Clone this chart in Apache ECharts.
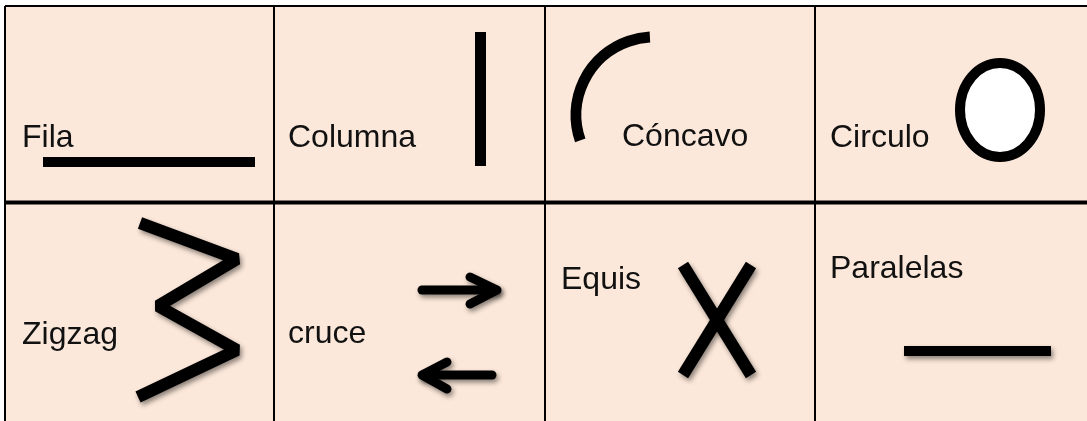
<!DOCTYPE html>
<html>
<head>
<meta charset="utf-8">
<style>
  html, body { margin: 0; padding: 0; background: #fff; }
  #chart { width: 1087px; height: 421px; }
</style>
<script src="https://cdn.jsdelivr.net/npm/echarts@6/dist/echarts.min.js"></script>
</head>
<body>
<div id="chart"></div>
<script>
// table edges
const colEdges = [5, 274, 545, 815, 1087];
const rowEdges = [6, 202.5, 421];

// cell texts and where they sit (x, baseline)
const labels = ['Fila', 'Columna', 'Cóncavo', 'Circulo', 'Zigzag', 'cruce', 'Equis', 'Paralelas'];
const labelX = [22, 288, 622, 830, 22, 288, 561, 830];
const labelBase = [148, 148, 147, 148, 345, 344, 290, 279];

// strokes drawn in the cells
const filaLine = [[43, 162], [255, 162]];
const columnaLine = [[480.5, 32], [480.5, 166]];
const zigzagLine = [[140, 223], [237, 259], [158, 306], [237, 350], [138, 397]];
const arrowRightShaft = [[422, 290], [496, 290]];
const arrowRightHead = [[470, 277], [497, 290], [470, 304]];
const arrowLeftShaft = [[492, 375], [423, 375]];
const arrowLeftHead = [[447, 362], [422, 375], [447, 389]];
const equisA = [[683, 265], [751, 375]];
const equisB = [[751, 265], [683, 375]];
const paralelasLine = [[904, 351], [1051, 351]];

// arc (Cóncavo) and ellipse (Circulo)
const arcCenter = [654, 115];
const arcRadius = 78;
const arcAngles = [161, 267];
const ovalCenter = [1000, 110];
const ovalRadii = [40, 47];

const FILL = '#FCE8DA';
const INK = '#000';
const shadow = { shadowBlur: 5, shadowColor: 'rgba(0,0,0,0.45)', shadowOffsetX: 2, shadowOffsetY: 3 };

const chart = echarts.init(document.getElementById('chart'));

function stroke(data, width, cap, join, withShadow) {
    return {
        type: 'line',
        data: data,
        symbol: 'none',
        silent: true,
        z: 5,
        lineStyle: Object.assign({ color: INK, width: width, cap: cap, join: join }, withShadow ? shadow : {})
    };
}

// grid lines of the table
const tableLines = [];
tableLines.push(stroke([[colEdges[0], rowEdges[0]], [colEdges[4], rowEdges[0]]], 2, 'butt', 'miter'));
tableLines.push(stroke([[colEdges[0], rowEdges[1]], [colEdges[4], rowEdges[1]]], 4, 'butt', 'miter'));
for (let i = 0; i < 4; i++) {
    tableLines.push(stroke([[colEdges[i], rowEdges[0]], [colEdges[i], rowEdges[2]]], 2, 'butt', 'miter'));
}

const option = {
    animation: false,
    backgroundColor: '#fff',
    grid: { left: 0, right: 0, top: 0, bottom: 0 },
    xAxis: { type: 'value', min: 0, max: 1087, show: false },
    yAxis: { type: 'value', min: 0, max: 421, inverse: true, show: false },
    series: [
        {
            // cell background
            type: 'custom',
            silent: true,
            z: 1,
            data: [[colEdges[0], rowEdges[0], colEdges[4], rowEdges[2]]],
            renderItem: function (params, api) {
                const p0 = api.coord([api.value(0), api.value(1)]);
                const p1 = api.coord([api.value(2), api.value(3)]);
                return {
                    type: 'rect',
                    shape: { x: p0[0], y: p0[1], width: p1[0] - p0[0], height: p1[1] - p0[1] },
                    style: { fill: FILL }
                };
            }
        },
        ...tableLines,
        stroke(filaLine, 10, 'butt', 'miter'),
        stroke(columnaLine, 11, 'butt', 'miter'),
        stroke(zigzagLine, 12, 'butt', 'bevel', true),
        stroke(arrowRightShaft, 9, 'round', 'round', true),
        stroke(arrowRightHead, 9, 'round', 'round', true),
        stroke(arrowLeftShaft, 9, 'round', 'round', true),
        stroke(arrowLeftHead, 9, 'round', 'round', true),
        stroke(equisA, 12, 'butt', 'miter', true),
        stroke(equisB, 12, 'butt', 'miter', true),
        stroke(paralelasLine, 10, 'butt', 'miter', true),
        {
            // concave arc
            type: 'custom',
            silent: true,
            z: 5,
            data: [[arcCenter[0], arcCenter[1], arcRadius, arcAngles[0], arcAngles[1]]],
            renderItem: function (params, api) {
                const c = api.coord([api.value(0), api.value(1)]);
                const r = api.size([api.value(2), 0])[0];
                return {
                    type: 'arc',
                    shape: {
                        cx: c[0], cy: c[1], r: r,
                        startAngle: api.value(3) * Math.PI / 180,
                        endAngle: api.value(4) * Math.PI / 180,
                        clockwise: true
                    },
                    style: { stroke: INK, lineWidth: 11, fill: null, lineCap: 'butt' }
                };
            }
        },
        {
            // circle
            type: 'custom',
            silent: true,
            z: 5,
            data: [[ovalCenter[0], ovalCenter[1], ovalRadii[0], ovalRadii[1]]],
            renderItem: function (params, api) {
                const c = api.coord([api.value(0), api.value(1)]);
                const s = api.size([api.value(2), api.value(3)]);
                return {
                    type: 'ellipse',
                    shape: { cx: c[0], cy: c[1], rx: s[0], ry: s[1] },
                    style: { stroke: INK, lineWidth: 10, fill: '#fff' }
                };
            }
        },
        {
            // cell texts
            type: 'custom',
            silent: true,
            z: 6,
            data: labels.map((t, i) => [labelX[i], labelBase[i], i]),
            renderItem: function (params, api) {
                const p = api.coord([api.value(0), api.value(1)]);
                const fs = 32;
                return {
                    type: 'text',
                    x: p[0],
                    y: p[1] - fs * 0.31,
                    style: {
                        text: labels[api.value(2)],
                        fill: '#111',
                        font: fs + 'px "Liberation Sans", Arial, sans-serif',
                        align: 'left',
                        verticalAlign: 'middle'
                    }
                };
            }
        }
    ]
};

chart.setOption(option);
window.addEventListener('resize', () => chart.resize());
</script>
</body>
</html>
